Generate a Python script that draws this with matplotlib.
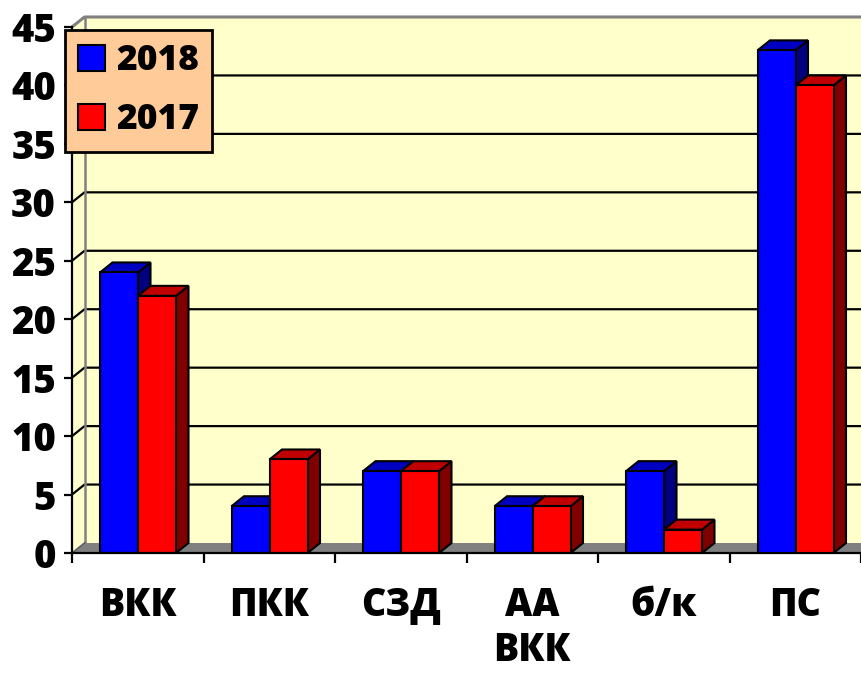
import matplotlib
matplotlib.use('Agg')
import matplotlib.pyplot as plt
from matplotlib.patches import Polygon, Patch

categories = ['ВКК', 'ПКК', 'СЗД', 'АА\nВКК', 'б/к', 'ПС']
series_names = ['2018', '2017']
values_2018 = [24, 4, 7, 4, 7, 43]
values_2017 = [22, 8, 7, 4, 2, 40]
y_ticks = [0, 5, 10, 15, 20, 25, 30, 35, 40, 45]

plt.rcParams['font.family'] = ['Open Sans', 'DejaVu Sans']
plt.rcParams['font.weight'] = 800
W = 800

front_cols = ['#0000FF', '#FF0000']
top_cols = ['#0000C0', '#C00000']
side_cols = ['#000080', '#800000']

fig = plt.figure(figsize=(8.61, 6.75), dpi=100)
ax = fig.add_axes([72/861, 122/675, 789/861, 536/675])
ax.set_facecolor('none')
DX = 12.5/131.5
DY = 10/11.69
YMAX = y_ticks[-1]
n = len(categories)
ax.set_xlim(0, n)
ax.set_ylim(0, YMAX + DY)

wall = '#FFFFCC'
# left wall
ax.add_patch(Polygon([(0, 0), (DX, DY), (DX, YMAX + DY), (0, YMAX)], closed=True,
                     facecolor=wall, edgecolor='none', zorder=0, clip_on=False))
# back wall
ax.add_patch(Polygon([(DX, DY), (n + 1, DY), (n + 1, YMAX + DY), (DX, YMAX + DY)], closed=True,
                     facecolor=wall, edgecolor='none', zorder=0))
# floor
ax.add_patch(Polygon([(0, 0), (n + 1, 0), (n + 1, DY), (DX, DY)], closed=True,
                     facecolor='#808080', edgecolor='none', zorder=1))
# gridlines
for v in y_ticks[1:-1]:
    ax.plot([0, DX, n + 1], [v, v + DY, v + DY], color='black', lw=1.6, zorder=1)
# top edge and back wall left edge
ax.plot([0, DX, n + 1], [YMAX, YMAX + DY, YMAX + DY], color='#808080', lw=2.2, zorder=1, clip_on=False)
ax.plot([DX, DX], [DY, YMAX + DY], color='#808080', lw=1.8, zorder=1)
ax.plot([0, DX], [0, DY], color='#606060', lw=1.2, zorder=1)

bw = 38/131.5
off = 28/131.5
for j, vals in enumerate([values_2018, values_2017]):
    for i, h in enumerate(vals):
        x0 = i + off + j*bw
        x1 = x0 + bw
        z = 3 + i*10 + j*3
        ax.add_patch(Polygon([(x1, 0), (x1 + DX, DY), (x1 + DX, h + DY), (x1, h)], closed=True,
                             facecolor=side_cols[j], edgecolor='black', lw=1.5, zorder=z))
        ax.add_patch(Polygon([(x0, h), (x1, h), (x1 + DX, h + DY), (x0 + DX, h + DY)], closed=True,
                             facecolor=top_cols[j], edgecolor='black', lw=1.5, zorder=z + 1))
        ax.bar(x0, h, width=bw, align='edge', color=front_cols[j], edgecolor='black',
               lw=1.5, zorder=z + 2)

for s in ['top', 'right']:
    ax.spines[s].set_visible(False)
ax.spines['left'].set_bounds(0, YMAX)
ax.spines['left'].set_linewidth(1.6)
ax.spines['bottom'].set_linewidth(1.6)
ax.spines['left'].set_zorder(50)
ax.spines['bottom'].set_zorder(50)

ax.set_yticks(y_ticks)
ax.set_yticklabels([str(v) for v in y_ticks], fontsize=27.5, fontweight=W)
ax.tick_params(axis='y', length=5.5, width=1.6, pad=6)

ax.set_xticks(range(n + 1))
ax.set_xticklabels([''] * (n + 1))
ax.tick_params(axis='x', which='major', length=7.5, width=1.6)
ax.set_xticks([i + 0.5 for i in range(n)], minor=True)
ax.set_xticklabels(categories, minor=True, fontsize=27, fontweight=W, linespacing=1.18)
ax.tick_params(axis='x', which='minor', length=0, pad=24)

handles = [Patch(facecolor=front_cols[j], edgecolor='black', lw=1.5) for j in range(2)]
leg = ax.legend(handles, series_names, loc='upper left', bbox_to_anchor=(65/861, 1 - 30/675),
                bbox_transform=fig.transFigure, borderaxespad=0, fancybox=False,
                facecolor='#FFCC99', edgecolor='black', framealpha=1,
                prop={'size': 25.5, 'weight': W}, handlelength=0.76, handleheight=0.76,
                handletextpad=0.3, labelspacing=0.64, borderpad=0.38)
leg.get_frame().set_linewidth(2)
leg.set_zorder(100)

fig.savefig('out.png', dpi=100)
